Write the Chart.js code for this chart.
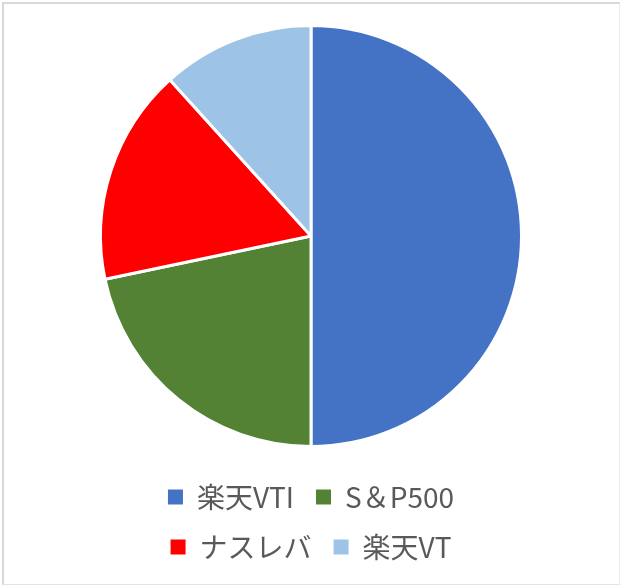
<!DOCTYPE html>
<html>
<head>
<meta charset="utf-8">
<script src="https://cdn.jsdelivr.net/npm/chart.js@4"></script>
<style>
html,body{margin:0;padding:0;background:#fff;}
#wrap{position:relative;width:620px;height:585px;}
#frame{position:absolute;left:2px;top:2px;right:0;bottom:0;border-left:2px solid #d9d9d9;border-top:2px solid #d9d9d9;border-right:1px solid #ececec;border-bottom:1px solid #e4e4e4;pointer-events:none;}
canvas{position:absolute;left:0;top:0;}
</style>
</head>
<body>
<div id="wrap">
<canvas id="c" width="620" height="585"></canvas>
<div id="frame"></div>
</div>
<script>
const categories = ["楽天VTI", "S＆P500", "ナスレバ", "楽天VT"];
const values = [50.0, 21.7, 16.6, 11.7];
const colors = ["#4472C4", "#548235", "#FF0000", "#9DC3E6"];

new Chart(document.getElementById('c'), {
  type: 'pie',
  data: {
    labels: categories,
    datasets: [{
      data: values,
      backgroundColor: colors,
      borderColor: '#ffffff',
      borderWidth: 3
    }]
  },
  options: {
    responsive: false,
    animation: false,
    devicePixelRatio: 1,
    layout: { padding: { top: 11, left: 99, right: 97, bottom: 14 } },
    plugins: {
      tooltip: { enabled: false },
      legend: {
        position: 'bottom',
        labels: {
          boxWidth: 15,
          boxHeight: 15,
          padding: 22,
          color: '#595959',
          font: { family: "'Noto Sans CJK JP', 'Noto Sans', sans-serif", size: 28 },
          generateLabels: function (chart) {
            const items = Chart.PieController.overrides.plugins.legend.labels.generateLabels(chart);
            items.forEach(function (it) { it.lineWidth = 0; it.strokeStyle = 'rgba(0,0,0,0)'; });
            return items;
          }
        }
      }
    }
  }
});
</script>
</body>
</html>
